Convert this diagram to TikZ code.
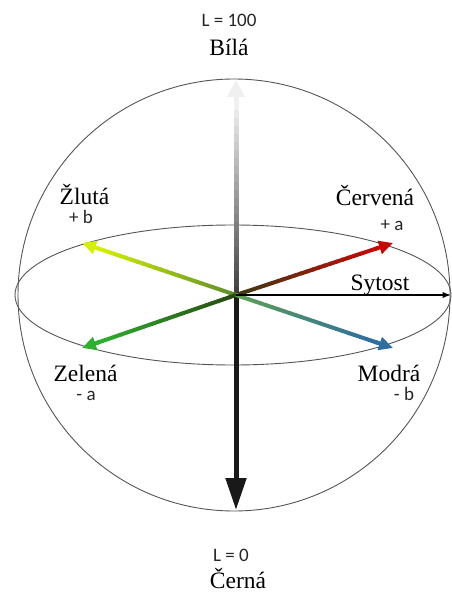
\documentclass[tikz,border=0pt]{standalone}
\usepackage{fontspec}
\setmainfont{Liberation Serif}
\newfontfamily\bezpat{Carlito}
\usetikzlibrary{calc,arrows.meta}
\definecolor{osa}{HTML}{555555}
\definecolor{sedaA}{HTML}{404040}
\definecolor{sedaB}{HTML}{F0F0F0}
\definecolor{cervA}{HTML}{3C3A14}
\definecolor{cervB}{HTML}{C20A06}
\definecolor{zlutA}{HTML}{5E8E2A}
\definecolor{zlutB}{HTML}{D2F000}
\definecolor{zelA}{HTML}{2A4A12}
\definecolor{zelB}{HTML}{2EB030}
\definecolor{modA}{HTML}{5EA055}
\definecolor{modB}{HTML}{2F6EA0}
% barevny prechod sipky: #1 od, #2 do, #3 pocatecni barva, #4 koncova barva, #5 sirka
\newcommand{\prechod}[5]{%
  \foreach \i in {0,...,23}{%
    \pgfmathsetmacro{\pa}{\i/24*0.9}%
    \pgfmathsetmacro{\pb}{(\i+1.2)/24*0.9}%
    \pgfmathtruncatemacro{\mix}{100-\i*100/23}%
    \draw[line width=#5,color=#3!\mix!#4] ($(#1)!\pa!(#2)$)--($(#1)!\pb!(#2)$);
  }%
}

\begin{document}
\begin{tikzpicture}[x=1pt,y=-1pt,>=Latex,
  popis/.style={font=\fontsize{23.5}{25}\selectfont,inner sep=0pt,anchor=base},
  znak/.style={font=\bezpat\fontsize{19}{20}\selectfont,inner sep=0pt,anchor=base,text=black!85},
  hrot/.style={-{Triangle[length=14pt,width=13pt]}}]
\useasboundingbox (0,0) rectangle (451,593);
% koule
\draw[osa,line width=0.9pt] (234,295) circle [radius=216];
\draw[osa,line width=0.9pt] (233,295) ellipse [x radius=218,y radius=70];
\coordinate (o) at (236,295);
\coordinate (b) at (236,80);
\coordinate (c) at (236,510);
\coordinate (r) at (393,243);
\coordinate (y) at (82,243);
\coordinate (g) at (82,348);
\coordinate (m) at (393,348);
\coordinate (s) at (451,295);
% svetlost
\prechod{o}{b}{sedaA}{sedaB}{5pt}
\draw[line width=5pt,sedaB,-{Triangle[length=17pt,width=17pt]}] ($(o)!0.88!(b)$)--(b);
\draw[line width=5pt,black!90,-{Triangle[length=32pt,width=20pt]}] (o)--(c);
% barvy
\prechod{o}{r}{cervA}{cervB}{4pt}
\draw[line width=4pt,cervB,hrot] ($(o)!0.88!(r)$)--(r);
\prechod{o}{y}{zlutA}{zlutB}{4pt}
\draw[line width=4pt,zlutB,hrot] ($(o)!0.88!(y)$)--(y);
\prechod{o}{g}{zelA}{zelB}{4pt}
\draw[line width=4pt,zelB,hrot] ($(o)!0.88!(g)$)--(g);
\prechod{o}{m}{modA}{modB}{4pt}
\draw[line width=4pt,modB,hrot] ($(o)!0.88!(m)$)--(m);
% sytost
\draw[line width=1.2pt,->] (o)--(s);
% popisky (pozice = uctari)
\node[znak] (l100) at (229,27) {L = 100};
\node[popis] (bila) at (229,56) {Bílá};
\node[popis] (zluta) at (84.5,205) {Žlutá};
\node[znak] (pb) at (81,224) {+ b};
\node[popis] (cervena) at (375,206) {Červená};
\node[znak] (pa) at (392,230) {+ a};
\node[popis] (sytost) at (380,290) {Sytost};
\node[popis] (zelena) at (85.5,381) {Zelená};
\node[znak] (ma) at (86,400) {- a};
\node[popis] (modra) at (389,381) {Modrá};
\node[znak] (mb) at (404,400) {- b};
\node[znak] (l0) at (231,561) {L = 0};
\node[popis] (cerna) at (238,588) {Černá};
\end{tikzpicture}
\end{document}
